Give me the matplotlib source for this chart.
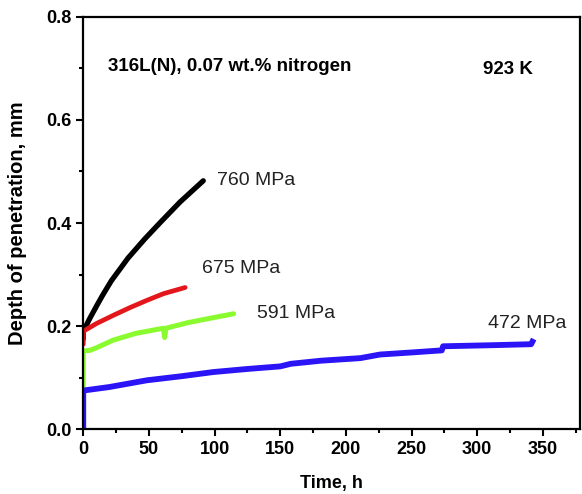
import numpy as np
import matplotlib
matplotlib.use("Agg")
from matplotlib import pyplot as plt
from matplotlib.ticker import MultipleLocator

plt.rcParams['font.family'] = ['Liberation Sans', 'DejaVu Sans']

# creep curves, depth of penetration vs time
t_760 = [0, 0, 5, 11, 15, 21.4, 34.1, 46.8, 59, 73.8, 91.4]
d_760 = [0.175, 0.19, 0.215, 0.243, 0.261, 0.288, 0.332, 0.369, 0.402, 0.441, 0.482]

t_675 = [0, 0, 1.3, 10, 22.9, 35.6, 48.4, 61.1, 77.6]
d_675 = [0.165, 0.188, 0.192, 0.205, 0.221, 0.236, 0.250, 0.263, 0.275]

t_591 = [0, 0, 5, 10, 22.9, 40, 61, 62, 63, 80, 100, 114.5]
d_591 = [0.08, 0.152, 0.153, 0.158, 0.173, 0.186, 0.196, 0.178, 0.196, 0.207, 0.217, 0.224]

t_472 = [0, 0, 2.6, 20, 48.4, 75, 99, 125, 150, 158, 181, 211, 226, 250, 267, 273, 274, 310, 341, 343]
d_472 = [0.0, 0.075, 0.076, 0.082, 0.095, 0.103, 0.111, 0.117, 0.122, 0.127, 0.133, 0.138,
         0.145, 0.149, 0.152, 0.153, 0.161, 0.163, 0.165, 0.175]

stress_labels = ["760 MPa", "675 MPa", "591 MPa", "472 MPa"]
label_pos = [(101.5, 0.483), (90.4, 0.312), (132.3, 0.225), (308, 0.205)]

fig = plt.figure(figsize=(5.82, 4.94), dpi=100)
ax = fig.add_axes([0.143, 0.131, 0.853, 0.835])

ax.plot(t_760, d_760, color="black", lw=3.8, solid_capstyle="round")
ax.plot(t_675, d_675, color="#e3161b", lw=3.4, solid_capstyle="round")
ax.plot(t_591, d_591, color="#8afb2e", lw=3.6, solid_capstyle="round")
ax.plot(t_472, d_472, color="#2b14f5", lw=4.2, solid_capstyle="butt")

for txt, (x, y) in zip(stress_labels, label_pos):
    ax.text(x, y, txt, fontsize=14, va="center", ha="left", color="#222222")

ax.text(0.05, 0.879, "316L(N), 0.07 wt.% nitrogen", transform=ax.transAxes,
        fontsize=13.5, fontweight="bold", va="center", ha="left")
ax.text(0.806, 0.872, "923 K", transform=ax.transAxes,
        fontsize=13.5, fontweight="bold", va="center", ha="left")

ax.set_xlim(0, 378)
ax.set_ylim(0, 0.8)
ax.xaxis.set_major_locator(MultipleLocator(50))
ax.xaxis.set_minor_locator(MultipleLocator(25))
ax.yaxis.set_major_locator(MultipleLocator(0.2))
ax.yaxis.set_minor_locator(MultipleLocator(0.1))
ax.yaxis.set_major_formatter(matplotlib.ticker.FormatStrFormatter("%.1f"))

ax.tick_params(which="major", direction="out", length=5, width=1.5, labelsize=13)
ax.tick_params(which="minor", direction="out", length=3, width=1.5)
for lab in ax.get_xticklabels() + ax.get_yticklabels():
    lab.set_fontweight("bold")
for sp in ax.spines.values():
    sp.set_linewidth(1.6)

ax.set_xlabel("Time, h", fontsize=13, fontweight="bold", labelpad=12)
ax.set_ylabel("Depth of penetration, mm", fontsize=14.5, fontweight="bold", labelpad=14)

fig.savefig("out.png", dpi=100)
